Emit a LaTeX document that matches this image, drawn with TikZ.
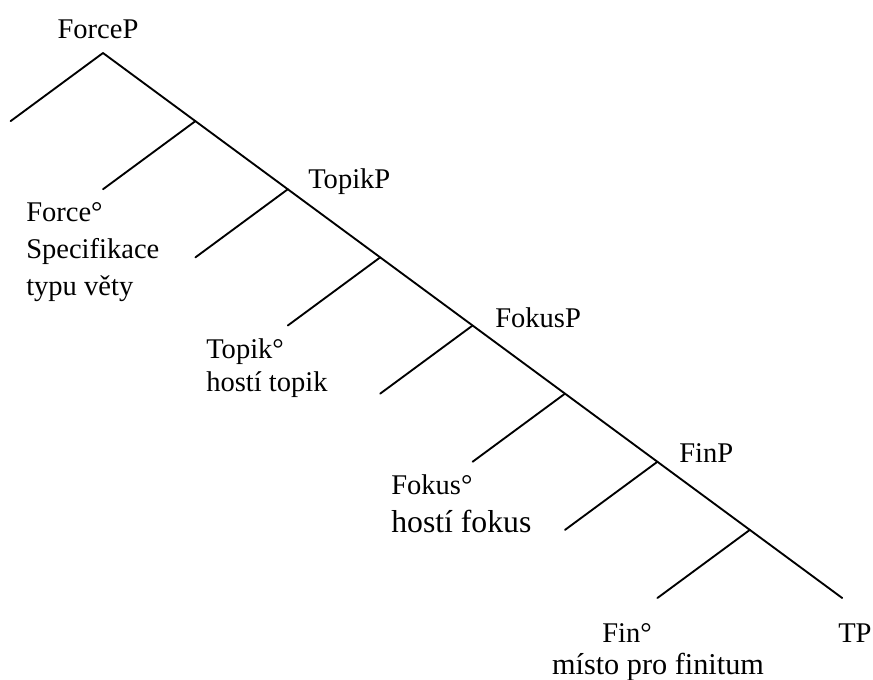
\documentclass[tikz,border=0pt]{standalone}
\usepackage{fontspec}
\setmainfont{Liberation Serif}
\tikzset{
  branch/.style={line width=1.4pt,line cap=round},
  lbl/.style={inner sep=0pt,font=\fontsize{21.4}{26}\selectfont},
}
\begin{document}
\begin{tikzpicture}[x=0.75pt,y=-0.75pt]
		\useasboundingbox (0,0) rectangle (873,679);
		% spine and left daughters
		\foreach \k in {0,...,8}
			\coordinate (p\k) at ({103+92.4*\k},{53+68.125*\k});
		\foreach \k in {0,...,7}
			\coordinate (b\k) at ({10.6+92.4*\k},{121.125+68.125*\k});
		\draw[branch] (p0) -- (p8);
		\foreach \k in {0,...,7}
			\draw[branch] (p\k) -- (b\k);
		% phrase labels
		\node[lbl,anchor=base] (forcep) at (98,38) {ForceP};
		\node[lbl,anchor=base west] (topikp) at (308,188) {TopikP};
		\node[lbl,anchor=base west] (fokusp) at (495,327) {FokusP};
		\node[lbl,anchor=base west] (finp) at (679,462) {FinP};
		\node[lbl,anchor=base west] (tp) at (838,642) {TP};
		% heads (base = last line)
		\node[lbl,anchor=base west,align=left,font=\fontsize{21.4}{27.75}\selectfont] (force0) at (26,295) {Force°\\Specifikace\\typu věty};
		\node[lbl,anchor=base west,align=left,font=\fontsize{21.4}{24.75}\selectfont] (topik0) at (206,391) {Topik°\\hostí topik};
		\node[lbl,anchor=base west,align=left,font=\fontsize{21.4}{28.5}\selectfont] (fokus0) at (391,532) {Fokus°\\{\fontsize{23.8}{28.5}\selectfont hostí fokus}};
		\node[lbl,anchor=base] (fin0) at (627,642) {Fin°};
		\node[lbl,anchor=base,font=\fontsize{22.7}{26}\selectfont] (misto) at (658,674) {místo pro finitum};
\end{tikzpicture}
\end{document}
